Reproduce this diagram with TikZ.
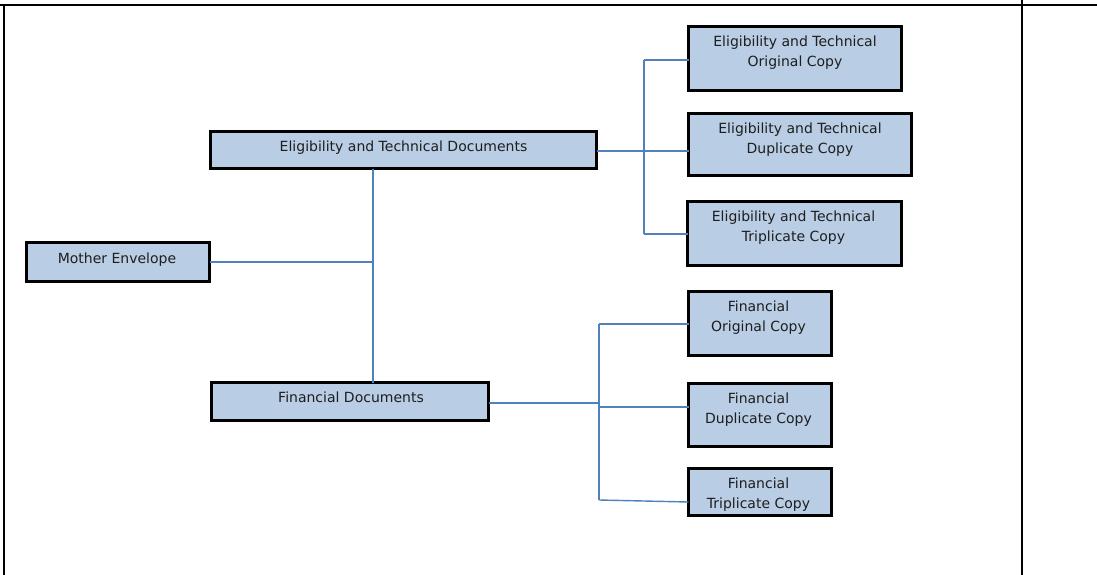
\documentclass[tikz,border=0pt]{standalone}
\usepackage{fontspec}
\setmainfont{DejaVu Sans}
\definecolor{boxblue}{HTML}{B9CDE5}
\definecolor{connblue}{HTML}{4F81BD}
\definecolor{txt}{HTML}{1E1E1E}
\begin{document}
\begin{tikzpicture}[x=1pt,y=-1pt,
  box/.style={draw=black, line width=3.2pt, fill=boxblue, inner sep=0pt, outer sep=0pt, anchor=north west},
  boxtext/.style={font=\fontsize{14}{20}\selectfont, align=center, anchor=north, inner sep=0pt, text=txt},
  conn/.style={draw=connblue, line width=1.4pt},
  rule/.style={draw=black, line width=2.8pt}]
\useasboundingbox (0,0) rectangle (1097,575);
% table rules
\coordinate (tl) at (0,5);
\coordinate (tr) at (1097,5);
\coordinate (lt) at (4,5);
\coordinate (lb) at (4,575);
\coordinate (rt) at (1022,0);
\coordinate (rb) at (1022,575);
\draw[rule] (tl) -- (tr);
\draw[rule] (lt) -- (lb);
\draw[rule] (rt) -- (rb);
% boxes
\node[box, minimum width=183, minimum height=39] (mother) at (26.5,242.5) {};
\node[box, minimum width=386, minimum height=37] (etd) at (210.5,131.5) {};
\node[box, minimum width=277, minimum height=38] (fd) at (211.5,382.5) {};
\node[box, minimum width=213, minimum height=64] (e1) at (688.5,26.5) {};
\node[box, minimum width=223, minimum height=62] (e2) at (688.5,113.5) {};
\node[box, minimum width=214, minimum height=64] (e3) at (687.5,201.5) {};
\node[box, minimum width=143, minimum height=64] (f1) at (688.5,291.5) {};
\node[box, minimum width=143, minimum height=63] (f2) at (688.5,383.5) {};
\node[box, minimum width=143, minimum height=47] (f3) at (688.5,468.5) {};
% texts
\node[boxtext] (mothert) at ([xshift=-1pt,yshift=-10pt]mother.north) {Mother Envelope};
\node[boxtext] (etdt) at ([yshift=-9pt]etd.north) {Eligibility and Technical Documents};
\node[boxtext] (fdt) at ([xshift=1pt,yshift=-9pt]fd.north) {Financial Documents};
\node[boxtext] (e1t) at ([xshift=0pt,yshift=-9pt]e1.north) {Eligibility and Technical\\Original Copy};
\node[boxtext] (e2t) at ([xshift=0pt,yshift=-9pt]e2.north) {Eligibility and Technical\\Duplicate Copy};
\node[boxtext] (e3t) at ([xshift=-1pt,yshift=-9pt]e3.north) {Eligibility and Technical\\Triplicate Copy};
\node[boxtext] (f1t) at ([xshift=-1.5pt,yshift=-9pt]f1.north) {Financial\\Original Copy};
\node[boxtext] (f2t) at ([xshift=-1.5pt,yshift=-9pt]f2.north) {Financial\\Duplicate Copy};
\node[boxtext] (f3t) at ([xshift=-1.5pt,yshift=-9pt]f3.north) {Financial\\Triplicate Copy};
% connectors
\coordinate (mj) at (373,262);
\draw[conn] (mother.east |- mj) -- (mj);
\draw[conn] (etd.south -| mj) -- (fd.north -| mj);
\coordinate (ej) at (644,151);
\draw[conn] (etd.east |- ej) -- (ej);
\draw[conn] (ej |- 0,60) -- (ej |- 0,234);
\draw[conn] (ej |- 0,60) -- (e1.west |- 0,60);
\draw[conn] (ej) -- (e2.west |- ej);
\draw[conn] (ej |- 0,234) -- (e3.west |- 0,234);
\coordinate (fj) at (599,403);
\draw[conn] (fd.east |- fj) -- (fj);
\draw[conn] (fj |- 0,324) -- (fj |- 0,500);
\draw[conn] (fj |- 0,324) -- (f1.west |- 0,324);
\draw[conn] (fj |- 0,407) -- (f2.west |- 0,407);
\draw[conn] (fj |- 0,500) -- (f3.west |- 0,502);
\end{tikzpicture}
\end{document}
